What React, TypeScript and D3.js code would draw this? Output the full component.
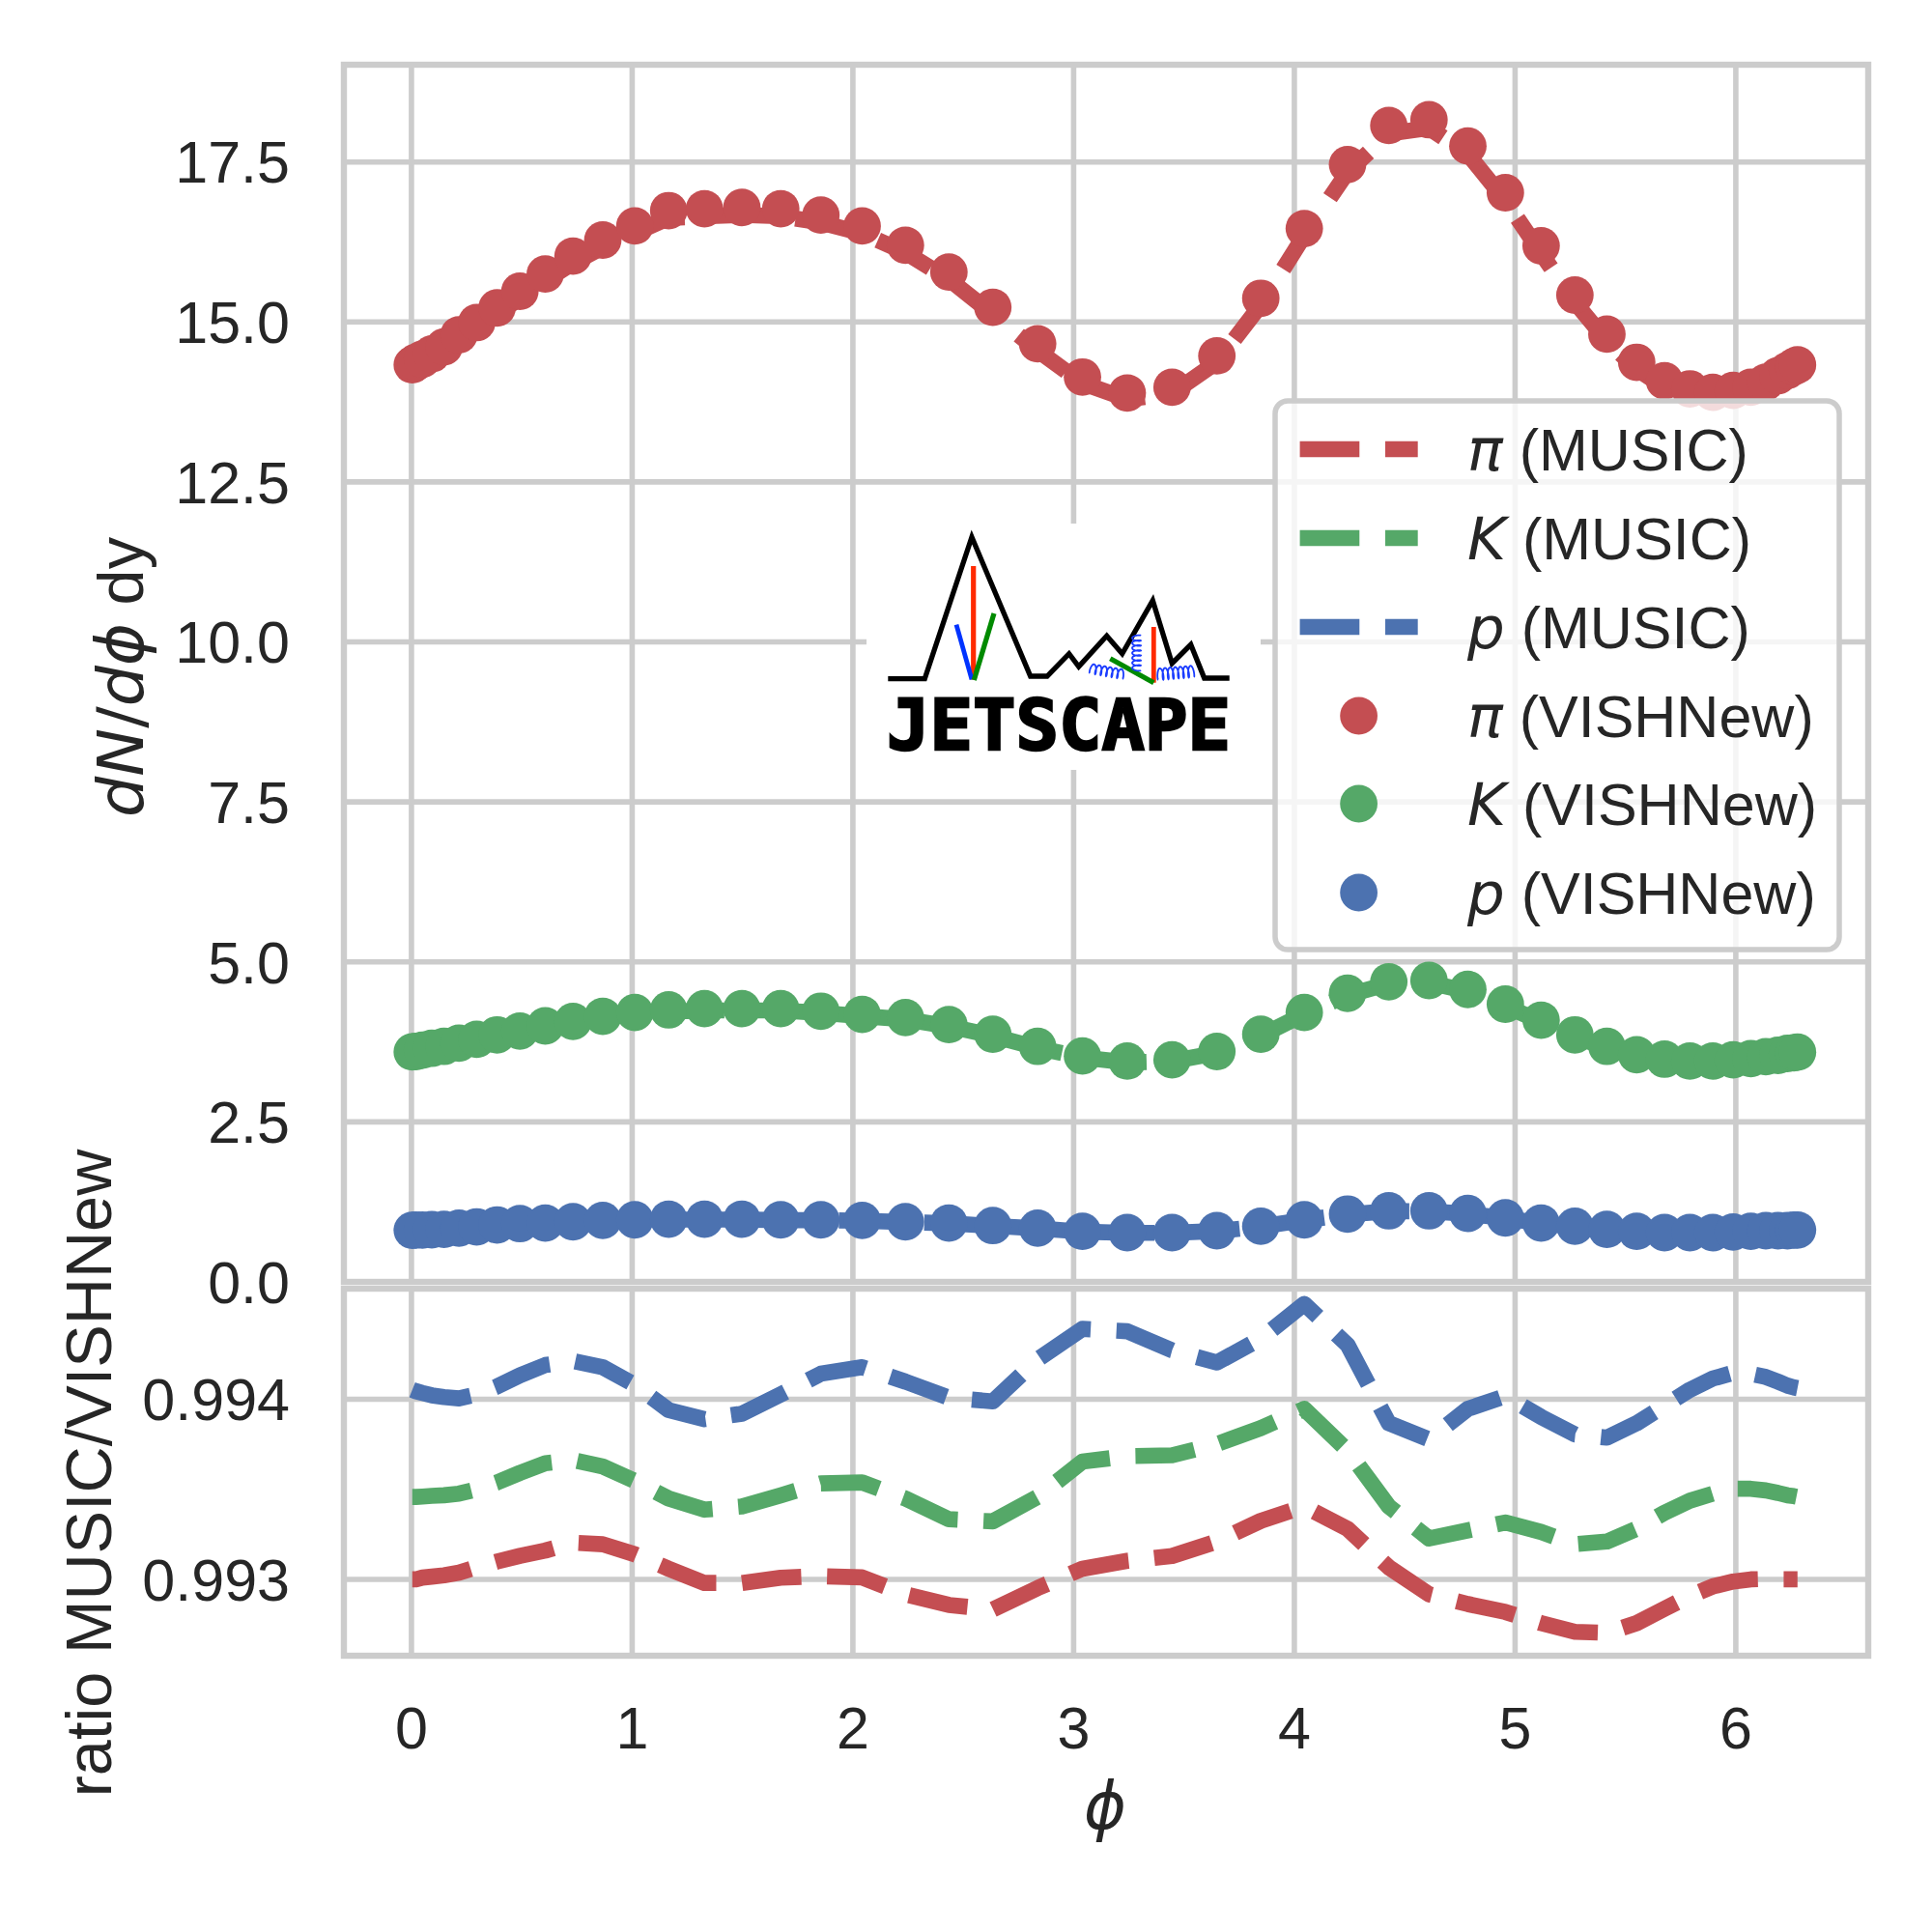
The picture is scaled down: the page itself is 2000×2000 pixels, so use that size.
import React from 'react';
import * as d3 from 'd3';

// ---------- data ----------
const phi = [0.0037, 0.0202, 0.0497, 0.0922, 0.1476, 0.2154, 0.2956, 0.3877, 0.4914, 0.6063, 0.732, 0.867,
  1.012, 1.1655, 1.3276, 1.497, 1.673, 1.855, 2.042, 2.238, 2.435, 2.634, 2.837, 3.040,
  3.243, 3.446, 3.649, 3.848, 4.045, 4.241, 4.428, 4.610, 4.786, 4.956, 5.118, 5.271,
  5.416, 5.551, 5.677, 5.792, 5.896, 5.988, 6.068, 6.136, 6.191, 6.234, 6.263, 6.2795];

const piVISH = [14.33, 14.37, 14.42, 14.50, 14.61, 14.80, 14.99, 15.22, 15.48, 15.75, 16.03, 16.28,
  16.50, 16.74, 16.77, 16.79, 16.77, 16.67, 16.50, 16.20, 15.78, 15.23, 14.66, 14.14,
  13.89, 13.98, 14.47, 15.37, 16.46, 17.46, 18.07, 18.16, 17.75, 17.02, 16.19, 15.42,
  14.81, 14.37, 14.08, 13.955, 13.90, 13.93, 13.98, 14.06, 14.16, 14.24, 14.30, 14.33];

const kVISH = [3.594, 3.60, 3.62, 3.65, 3.68, 3.73, 3.79, 3.86, 3.92, 4.00, 4.07, 4.15,
  4.21, 4.25, 4.27, 4.27, 4.27, 4.23, 4.18, 4.13, 4.02, 3.87, 3.68, 3.53,
  3.45, 3.47, 3.60, 3.87, 4.21, 4.51, 4.69, 4.71, 4.57, 4.34, 4.09, 3.86,
  3.68, 3.55, 3.48, 3.45, 3.45, 3.47, 3.49, 3.52, 3.54, 3.57, 3.58, 3.59];

const pVISH = [0.806, 0.81, 0.81, 0.815, 0.82, 0.84, 0.86, 0.89, 0.91, 0.92, 0.94, 0.96,
  0.97, 0.98, 0.98, 0.98, 0.97, 0.97, 0.96, 0.94, 0.92, 0.88, 0.84, 0.79,
  0.77, 0.77, 0.80, 0.87, 0.97, 1.06, 1.11, 1.11, 1.07, 1.00, 0.92, 0.87,
  0.82, 0.79, 0.77, 0.77, 0.77, 0.78, 0.79, 0.80, 0.80, 0.80, 0.81, 0.81];

// ratio MUSIC / VISHNew
const ratioPi = [0.99300, 0.99300, 0.99301, 0.993015, 0.993023, 0.993037, 0.993067, 0.993099, 0.99313, 0.99316, 0.993204, 0.993195,
  0.993139, 0.993059, 0.99298, 0.99298, 0.993009, 0.993018, 0.993011, 0.992917, 0.992858, 0.992833, 0.992952, 0.993059,
  0.993103, 0.99313, 0.99321, 0.993325, 0.993405, 0.993281, 0.993067, 0.992917, 0.992863, 0.992819, 0.992757, 0.992709,
  0.992703, 0.992757, 0.992837, 0.992908, 0.992961, 0.992988, 0.993000, 0.993002, 0.993000, 0.993000, 0.993000, 0.993000];

const ratioK = [0.993458, 0.993458, 0.99346, 0.993464, 0.993467, 0.993476, 0.9935, 0.993538, 0.993591, 0.993645, 0.993663, 0.993627,
  0.993547, 0.993449, 0.993387, 0.993405, 0.993467, 0.993533, 0.993538, 0.993449, 0.993334, 0.993322, 0.993458, 0.993654,
  0.993684, 0.993689, 0.993751, 0.99384, 0.993947, 0.993716, 0.993405, 0.993227, 0.993272, 0.993316, 0.993263, 0.993195,
  0.99321, 0.993281, 0.99337, 0.993437, 0.993476, 0.993503, 0.993503, 0.993494, 0.99348, 0.993467, 0.993462, 0.993458];

const ratioP = [0.994053, 0.994045, 0.994035, 0.994022, 0.994012, 0.994005, 0.994027, 0.994071, 0.994133, 0.99419, 0.994213, 0.994178,
  0.99408, 0.99394, 0.99389, 0.99392, 0.994027, 0.994142, 0.994178, 0.994098, 0.994009, 0.993988, 0.994222, 0.994391,
  0.994378, 0.994272, 0.994204, 0.994337, 0.99453, 0.994302, 0.993867, 0.993778, 0.993947, 0.994018, 0.993902, 0.993805,
  0.993787, 0.993867, 0.993964, 0.994053, 0.994115, 0.994147, 0.994142, 0.994124, 0.994098, 0.994076, 0.994066, 0.994062];

const xTicks = [0, 1, 2, 3, 4, 5, 6];
const yTopTicks = [0, 2.5, 5, 7.5, 10, 12.5, 15, 17.5];
const yRatioTicks = [0.993, 0.994];

const species = [
  { key: 'pi', sym: 'π', color: '#C44E52', vish: piVISH, ratio: ratioPi },
  { key: 'K', sym: 'K', color: '#55A868', vish: kVISH, ratio: ratioK },
  { key: 'p', sym: 'p', color: '#4C72B0', vish: pVISH, ratio: ratioP },
];

// ---------- styling ----------
const FONT = "'Liberation Sans', Arial, Helvetica, sans-serif";
const MATH = "'DejaVu Sans', sans-serif";
const TXT = '#262626';
const GRID = '#cccccc';
const LW = 16.67;
const DASH = '61.7 26.7';
const MR = 19.4;
const TICK_FS = 61;
const LABEL_FS = 66.7;

// decorative spring (gluon) for the logo
function coilPath(x0: number, y0: number, x1: number, y1: number, loops: number, back: number, height: number) {
  const dx = x1 - x0, dy = y1 - y0;
  const L = Math.hypot(dx, dy);
  const ux = dx / L, uy = dy / L;
  const px = uy, py = -ux;
  const pts: [number, number][] = [];
  const N = loops * 24;
  for (let i = 0; i <= N; i++) {
    const t = i / N;
    const a = 2 * Math.PI * loops * t;
    const along = L * t - back * Math.sin(a);
    const across = height * (1 - Math.cos(a)) / 2;
    pts.push([x0 + ux * along + px * across, y0 + uy * along + py * across]);
  }
  return d3.line()(pts) || '';
}

export default function App() {
  const x = d3.scaleLinear().domain([-0.306, 6.6]).range([356, 1934]);
  const yTop = d3.scaleLinear().domain([0, 19.02]).range([1327, 67]);
  const yRat = d3.scaleLinear().domain([0.992576, 0.994616]).range([1714, 1333.7]);

  const topLine = d3.line<number>().x((_, i) => x(phi[i])).y((d) => yTop(d));
  const ratLine = d3.line<number>().x((_, i) => x(phi[i])).y((d) => yRat(d));

  const L = 356, R = 1934;
  const topT = 67, topB = 1327;
  const botT = 1334, botB = 1714;

  const legendRows = [
    ...species.map((s) => ({ type: 'line', s, label: ' (MUSIC)' })),
    ...species.map((s) => ({ type: 'dot', s, label: ' (VISHNew)' })),
  ];
  const legRowY = [465, 557, 649, 741, 832, 924];

  return (
    <svg width={2000} height={2000} viewBox="0 0 2000 2000"
      style={{ position: 'absolute', left: 0, top: 0, background: '#fff' }}>
      <defs>
        <clipPath id="clipTop"><rect x={L} y={topT} width={R - L} height={topB - topT} /></clipPath>
        <clipPath id="clipBot"><rect x={L} y={botT} width={R - L} height={botB - botT} /></clipPath>
      </defs>
      <rect x={0} y={0} width={2000} height={2000} fill="#fff" />

      {/* ---------- top panel ---------- */}
      <g>
        {xTicks.map((t) => (
          <line key={'gx' + t} x1={x(t)} x2={x(t)} y1={topT} y2={topB} stroke={GRID} strokeWidth={5.6} />
        ))}
        {yTopTicks.map((t) => (
          <line key={'gy' + t} x1={L} x2={R} y1={yTop(t)} y2={yTop(t)} stroke={GRID} strokeWidth={5.6} />
        ))}
        <g clipPath="url(#clipTop)">
          {species.map((s) => (
            <path key={'ml' + s.key} d={topLine(s.vish.map((v, i) => v * s.ratio[i])) || ''}
              fill="none" stroke={s.color} strokeWidth={LW} strokeDasharray={DASH}
              strokeLinejoin="round" strokeLinecap="butt" />
          ))}
          {species.map((s) => (
            <g key={'mk' + s.key}>
              {s.vish.map((v, i) => (
                <circle key={i} cx={x(phi[i])} cy={yTop(v)} r={MR} fill={s.color} />
              ))}
            </g>
          ))}
        </g>
        <rect x={L} y={topT} width={R - L} height={topB - topT} fill="none" stroke={GRID} strokeWidth={6.4} />
        {yTopTicks.map((t) => (
          <text key={'ty' + t} x={300} y={yTop(t) + 21.8} textAnchor="end" fontFamily={FONT}
            fontSize={TICK_FS} fill={TXT}>{t.toFixed(1)}</text>
        ))}
        <text transform="translate(148,701) rotate(-90)" textAnchor="middle" fontSize={LABEL_FS} fill={TXT}>
          <tspan fontFamily={MATH} fontStyle="italic">dN</tspan>
          <tspan fontFamily={MATH}>/</tspan>
          <tspan fontFamily={MATH} fontStyle="italic">dϕ</tspan>
          <tspan fontFamily={FONT}> dy</tspan>
        </text>
      </g>

      {/* ---------- logo ---------- */}
      <g>
        <rect x={897} y={542} width={408} height={255} fill="#fff" />
        <polyline
          points="919.3,702.7 957.3,702.7 1006,556 1066.7,700 1084,700 1106.7,676.7 1116.7,690 1145.7,658.3 1161.7,676.7 1193.3,621.7 1213.3,686.7 1232.7,667.3 1246.7,702 1272.7,702"
          fill="none" stroke="#000" strokeWidth={5.3} strokeLinejoin="miter" />
        <line x1={1007.7} y1={586} x2={1007.7} y2={703.5} stroke="#ff2a00" strokeWidth={5.2} />
        <line x1={990} y1={646.7} x2={1006} y2={703.3} stroke="#0033ff" strokeWidth={4.8} />
        <line x1={1029} y1={635} x2={1008.3} y2={704} stroke="#008a00" strokeWidth={5.2} />
        <line x1={1194.3} y1={649} x2={1194.3} y2={706.7} stroke="#ff2a00" strokeWidth={4.8} />
        <line x1={1149.3} y1={681.7} x2={1194.3} y2={706.7} stroke="#008a00" strokeWidth={5.2} />
        <path d={coilPath(1128, 697, 1162, 703, 6, 1.6, 10)} fill="none" stroke="#1a3cff" strokeWidth={1.8} />
        <path d={coilPath(1181, 694, 1181, 658, 7, 1.4, 9)} fill="none" stroke="#1a3cff" strokeWidth={1.8} />
        <path d={coilPath(1199, 704, 1236, 701, 7, 1.6, 12)} fill="none" stroke="#1a3cff" strokeWidth={1.8} />
        <text x={918} y={776} fontFamily="'DejaVu Sans Mono', monospace" fontWeight="bold" fontSize={73}
          textLength={356} lengthAdjust="spacingAndGlyphs" fill="#000" stroke="#000" strokeWidth={2.5}>JETSCAPE</text>
      </g>

      {/* ---------- legend ---------- */}
      <g>
        <rect x={1320} y={415} width={584} height={568} rx={13} ry={13} fill="#fff" fillOpacity={0.8}
          stroke={GRID} strokeWidth={5.5} />
        {legendRows.map((row, i) => (
          <g key={'lg' + i}>
            {row.type === 'line' ? (
              <line x1={1345.6} x2={1467.7} y1={legRowY[i]} y2={legRowY[i]} stroke={row.s.color}
                strokeWidth={LW} strokeDasharray={DASH} />
            ) : (
              <circle cx={1406.6} cy={legRowY[i]} r={MR} fill={row.s.color} />
            )}
            <text x={1519} y={legRowY[i] + 22} fontSize={TICK_FS} fill={TXT}>
              <tspan fontFamily={MATH} fontStyle="italic">{row.s.sym}</tspan>
              <tspan fontFamily={FONT}>{row.label}</tspan>
            </text>
          </g>
        ))}
      </g>

      {/* ---------- ratio panel ---------- */}
      <g>
        {xTicks.map((t) => (
          <line key={'bgx' + t} x1={x(t)} x2={x(t)} y1={botT} y2={botB} stroke={GRID} strokeWidth={5.6} />
        ))}
        {yRatioTicks.map((t) => (
          <line key={'bgy' + t} x1={L} x2={R} y1={yRat(t)} y2={yRat(t)} stroke={GRID} strokeWidth={5.6} />
        ))}
        <g clipPath="url(#clipBot)">
          {species.map((s) => (
            <path key={'rl' + s.key} d={ratLine(s.ratio) || ''} fill="none" stroke={s.color}
              strokeWidth={LW} strokeDasharray={DASH} strokeLinejoin="round" strokeLinecap="butt" />
          ))}
        </g>
        <rect x={L} y={botT} width={R - L} height={botB - botT} fill="none" stroke={GRID} strokeWidth={6.4} />
        {yRatioTicks.map((t) => (
          <text key={'rty' + t} x={300} y={yRat(t) + 21.8} textAnchor="end" fontFamily={FONT}
            fontSize={TICK_FS} fill={TXT}>{t.toFixed(3)}</text>
        ))}
        {xTicks.map((t) => (
          <text key={'tx' + t} x={x(t)} y={1810} textAnchor="middle" fontFamily={FONT}
            fontSize={TICK_FS} fill={TXT}>{t}</text>
        ))}
        <text x={1144} y={1893} textAnchor="middle" fontFamily={MATH} fontStyle="italic"
          fontSize={LABEL_FS} fill={TXT}>ϕ</text>
        <text transform="translate(115,1525) rotate(-90)" textAnchor="middle" fontFamily={FONT}
          fontSize={LABEL_FS} fill={TXT}>ratio MUSIC/VISHNew</text>
      </g>
    </svg>
  );
}
